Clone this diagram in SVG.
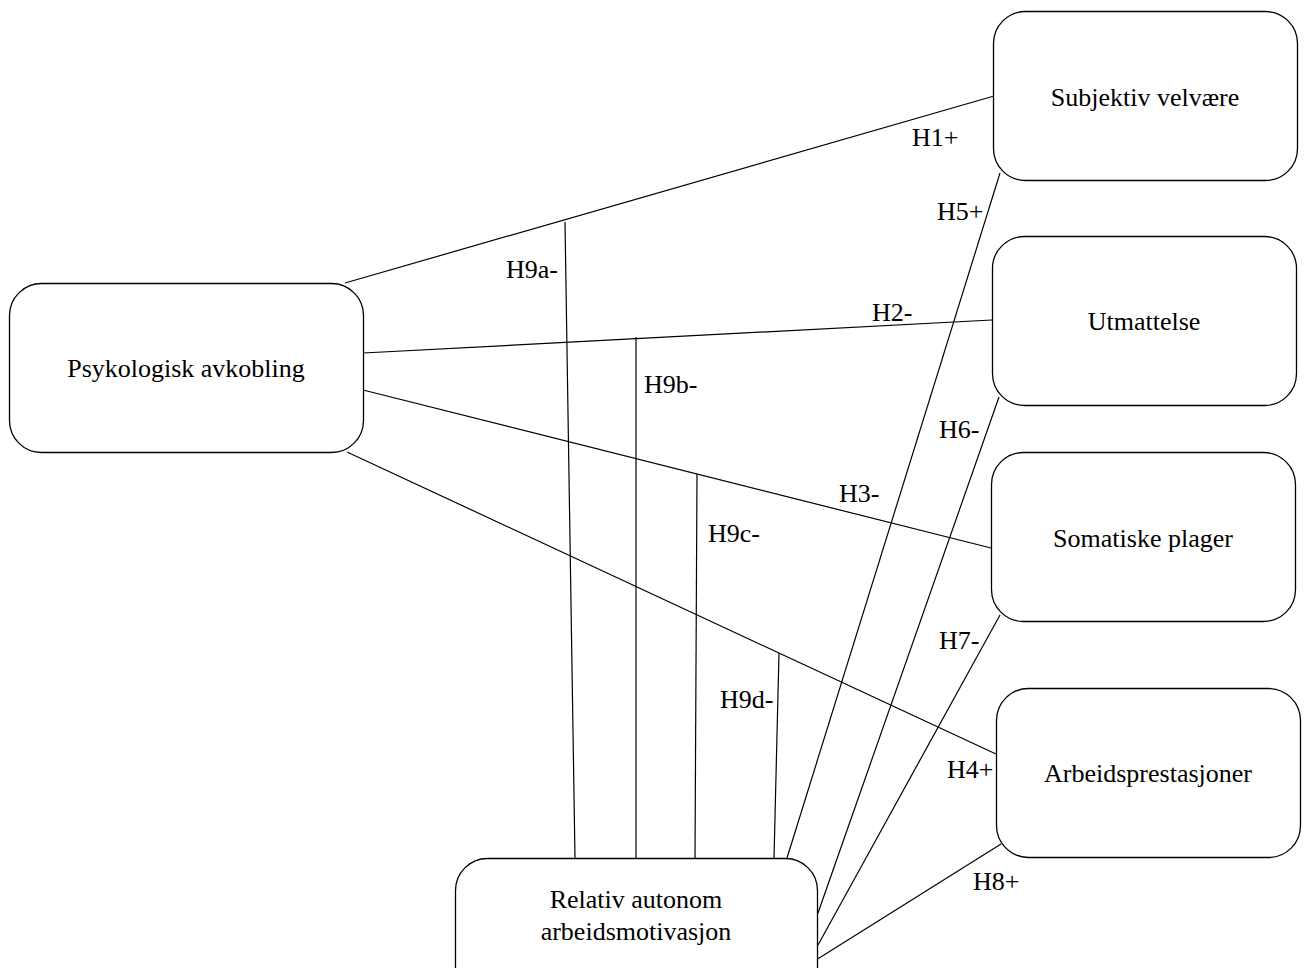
<svg xmlns="http://www.w3.org/2000/svg" width="1307" height="968" viewBox="0 0 1307 968">
<style>
.box{fill:#fff;stroke:#000;stroke-width:1.3}
.c line{stroke:#000;stroke-width:1.2}
text{font-family:'Liberation Serif','Times New Roman',Tinos,'DejaVu Serif',serif;font-size:26px;fill:#000}
.m{text-anchor:middle}
</style>
<rect width="1307" height="968" fill="#fff"/>
<g id="connectors" class="c">
<line x1="345" y1="283" x2="994" y2="96"/>
<line x1="363" y1="353" x2="992" y2="320"/>
<line x1="363" y1="390" x2="991" y2="548"/>
<line x1="347" y1="452" x2="996" y2="754"/>
<line x1="787" y1="858" x2="1000" y2="173"/>
<line x1="818" y1="913" x2="999" y2="397"/>
<line x1="818" y1="945" x2="1000" y2="615"/>
<line x1="816" y1="960" x2="1001" y2="844"/>
<line x1="565" y1="222" x2="575" y2="858"/>
<line x1="636" y1="337" x2="636" y2="858"/>
<line x1="697" y1="474" x2="695" y2="858"/>
<line x1="779" y1="653" x2="774" y2="858"/>
</g>
<g id="labels" font-family="Liberation Serif, serif">
<text x="912" y="146">H1+</text>
<text x="937" y="220">H5+</text>
<text x="506" y="278">H9a-</text>
<text x="872" y="321">H2-</text>
<text x="644" y="393">H9b-</text>
<text x="939" y="438">H6-</text>
<text x="839" y="502">H3-</text>
<text x="708" y="542">H9c-</text>
<text x="939" y="649">H7-</text>
<text x="720" y="708">H9d-</text>
<text x="947" y="778">H4+</text>
<text x="973" y="890">H8+</text>
</g>
<g id="node-psykologisk">
<rect class="box" x="9.5" y="283.5" width="354" height="169" rx="32"/>
<text class="m" x="186" y="377">Psykologisk avkobling</text>
</g>
<g id="node-subjektiv">
<rect class="box" x="993.5" y="11.5" width="304" height="169" rx="32"/>
<text class="m" x="1145" y="106">Subjektiv velvære</text>
</g>
<g id="node-utmattelse">
<rect class="box" x="992.5" y="236.5" width="304" height="169" rx="32"/>
<text class="m" x="1144" y="330">Utmattelse</text>
</g>
<g id="node-somatiske">
<rect class="box" x="991.5" y="452.5" width="304" height="169" rx="32"/>
<text class="m" x="1143" y="547">Somatiske plager</text>
</g>
<g id="node-arbeidsprestasjoner">
<rect class="box" x="996.5" y="688.5" width="304" height="169" rx="32"/>
<text class="m" x="1148" y="782">Arbeidsprestasjoner</text>
</g>
<g id="node-relativ">
<rect class="box" x="455.5" y="858.5" width="362" height="169" rx="32"/>
<text class="m" x="636" y="908">Relativ autonom</text>
<text class="m" x="636" y="940">arbeidsmotivasjon</text>
</g>
</svg>
